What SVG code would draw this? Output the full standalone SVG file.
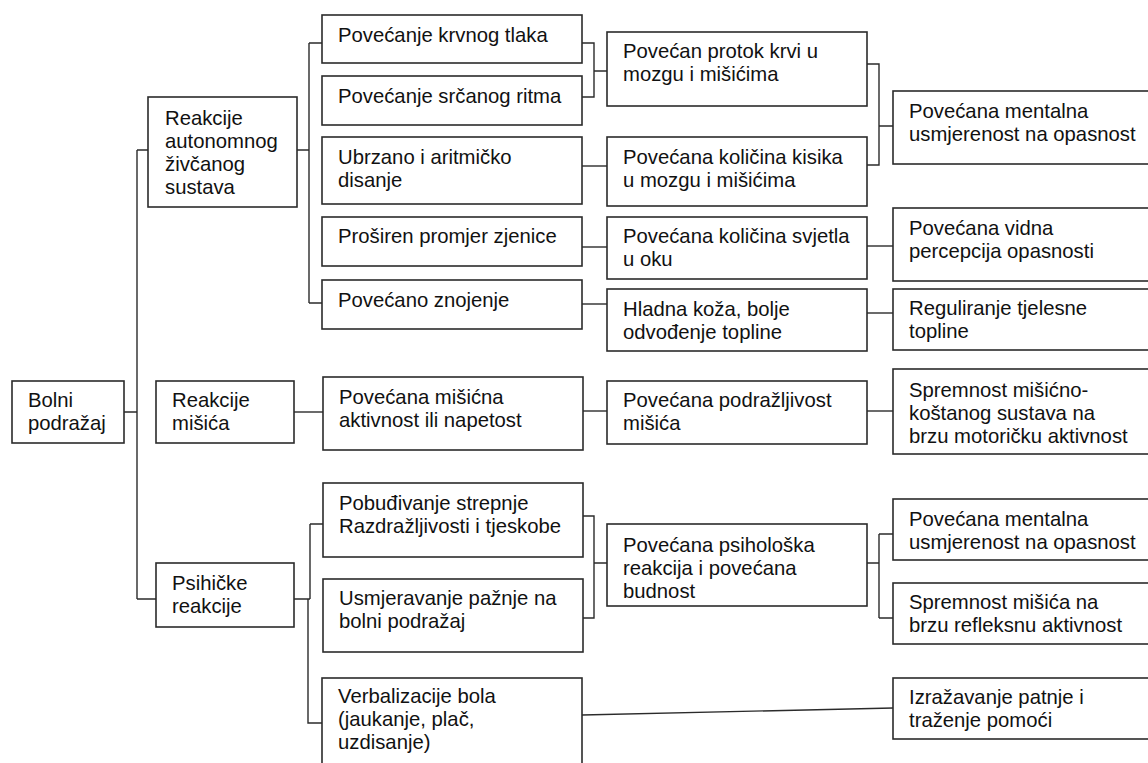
<svg xmlns="http://www.w3.org/2000/svg" width="1148" height="763" viewBox="0 0 1148 763">
<style>
rect{fill:#fff;stroke:#2b2b2b;stroke-width:1.6}
text{font-family:"Liberation Sans",Arial,sans-serif;font-size:20.3px;fill:#111}
#connectors path{fill:none;stroke:#2b2b2b;stroke-width:1.4}
</style>
<rect x="0" y="0" width="1148" height="763" style="stroke:none"/>
<g id="connectors">
<path d="M124 412H137M137 150V599M137 150H148M137 599H156"/>
<path d="M297 150H309M309 43V303M309 43H322M309 303H322"/>
<path d="M582 43H594V97H582M594 71H607"/>
<path d="M582 166H607"/>
<path d="M582 247H607"/>
<path d="M582 304H607"/>
<path d="M867 64H879V165H867M879 126H893"/>
<path d="M867 246H893"/>
<path d="M867 313H893"/>
<path d="M294 412H323"/>
<path d="M583 411H607"/>
<path d="M867 411H893"/>
<path d="M294 599H310M310 524V599M310 524H323M308 599V723H322"/>
<path d="M583 516H594V618H583M594 563H607"/>
<path d="M867 563H879M879 534V618M879 534H893M879 618H893"/>
<path d="M582 715L893 708"/>
</g>
<g id="bolni"><rect x="12" y="381" width="112" height="62"/><text x="28" y="407">Bolni</text><text x="28" y="430">podražaj</text></g>
<g id="autonomni"><rect x="148" y="97" width="149" height="110"/><text x="165" y="125">Reakcije</text><text x="165" y="148">autonomnog</text><text x="165" y="171">živčanog</text><text x="165" y="194">sustava</text></g>
<g id="misici"><rect x="156" y="381" width="138" height="62"/><text x="172" y="407">Reakcije</text><text x="172" y="430">mišića</text></g>
<g id="psihicke"><rect x="156" y="563" width="138" height="64"/><text x="172" y="590">Psihičke</text><text x="172" y="613">reakcije</text></g>
<g id="krvni-tlak"><rect x="322" y="15" width="260" height="48"/><text x="338" y="42">Povećanje krvnog tlaka</text></g>
<g id="srcani-ritam"><rect x="322" y="76" width="260" height="49"/><text x="338" y="103">Povećanje srčanog ritma</text></g>
<g id="disanje"><rect x="322" y="137" width="260" height="67"/><text x="338" y="164">Ubrzano i aritmičko</text><text x="338" y="187">disanje</text></g>
<g id="zjenica"><rect x="322" y="217" width="260" height="49"/><text x="338" y="243">Proširen promjer zjenice</text></g>
<g id="znojenje"><rect x="322" y="280" width="260" height="49"/><text x="338" y="307">Povećano znojenje</text></g>
<g id="misicna-aktivnost"><rect x="323" y="377" width="260" height="73"/><text x="339" y="404">Povećana mišićna</text><text x="339" y="427">aktivnost ili napetost</text></g>
<g id="strepnja"><rect x="323" y="483" width="260" height="74"/><text x="339" y="510">Pobuđivanje strepnje</text><text x="339" y="533">Razdražljivosti i tjeskobe</text></g>
<g id="paznja"><rect x="323" y="579" width="260" height="73"/><text x="339" y="605">Usmjeravanje pažnje na</text><text x="339" y="628">bolni podražaj</text></g>
<g id="verbalizacija"><rect x="322" y="678" width="260" height="100"/><text x="338" y="703">Verbalizacije bola</text><text x="338" y="726">(jaukanje, plač,</text><text x="338" y="749">uzdisanje)</text></g>
<g id="protok"><rect x="607" y="32" width="260" height="74"/><text x="623" y="58">Povećan protok krvi u</text><text x="623" y="81">mozgu i mišićima</text></g>
<g id="kisik"><rect x="607" y="137" width="260" height="69"/><text x="623" y="164">Povećana količina kisika</text><text x="623" y="187">u mozgu i mišićima</text></g>
<g id="svjetlo"><rect x="607" y="217" width="260" height="62"/><text x="623" y="243">Povećana količina svjetla</text><text x="623" y="266">u oku</text></g>
<g id="koza"><rect x="607" y="289" width="260" height="62"/><text x="623" y="316">Hladna koža, bolje</text><text x="623" y="339">odvođenje topline</text></g>
<g id="podrazljivost"><rect x="607" y="381" width="260" height="63"/><text x="623" y="407">Povećana podražljivost</text><text x="623" y="430">mišića</text></g>
<g id="psiholoska"><rect x="607" y="524" width="260" height="82"/><text x="623" y="552">Povećana psihološka</text><text x="623" y="575">reakcija i povećana</text><text x="623" y="598">budnost</text></g>
<g id="mentalna-1"><rect x="893" y="91" width="270" height="73"/><text x="909" y="118">Povećana mentalna</text><text x="909" y="141">usmjerenost na opasnost</text></g>
<g id="vidna"><rect x="893" y="208" width="270" height="73"/><text x="909" y="235">Povećana vidna</text><text x="909" y="258">percepcija opasnosti</text></g>
<g id="toplina"><rect x="893" y="289" width="270" height="61"/><text x="909" y="315">Reguliranje tjelesne</text><text x="909" y="338">topline</text></g>
<g id="motoricka"><rect x="893" y="369" width="270" height="85"/><text x="909" y="397">Spremnost mišićno-</text><text x="909" y="420">koštanog sustava na</text><text x="909" y="443">brzu motoričku aktivnost</text></g>
<g id="mentalna-2"><rect x="893" y="499" width="270" height="61"/><text x="909" y="526">Povećana mentalna</text><text x="909" y="549">usmjerenost na opasnost</text></g>
<g id="refleksna"><rect x="893" y="583" width="270" height="61"/><text x="909" y="609">Spremnost mišića na</text><text x="909" y="632">brzu refleksnu aktivnost</text></g>
<g id="pomoc"><rect x="893" y="678" width="270" height="61"/><text x="909" y="704">Izražavanje patnje i</text><text x="909" y="727">traženje pomoći</text></g>
</svg>
